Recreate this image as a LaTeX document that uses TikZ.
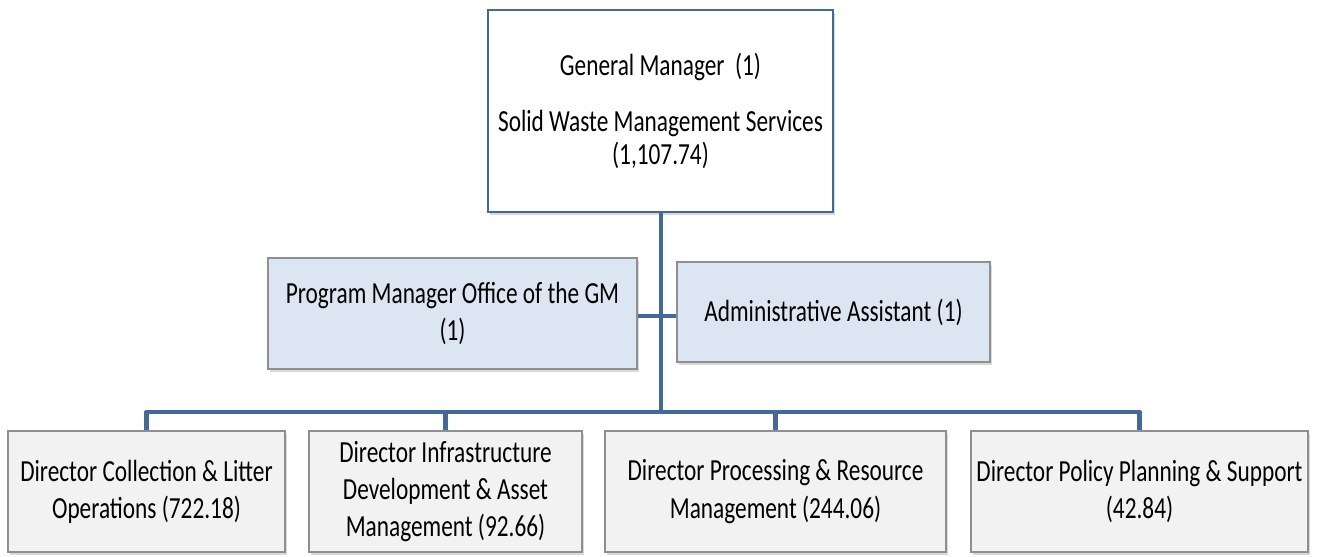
\documentclass[tikz,border=0pt]{standalone}
\usepackage{fontspec}
\setmainfont[FakeStretch=0.76]{Carlito}
\usetikzlibrary{shadows}
\definecolor{linkblue}{HTML}{41699A}
\definecolor{paleblue}{HTML}{DCE6F2}
\definecolor{palegray}{HTML}{F2F2F2}
\definecolor{edgegray}{HTML}{8F8F8F}
\begin{document}
\begin{tikzpicture}[x=0.75pt,y=-0.75pt,
  box/.style={draw=edgegray, line width=0.8pt, align=center, inner sep=0pt,
    font=\fontsize{23}{28}\selectfont,
    drop shadow={opacity=0.3, shadow xshift=1.2pt, shadow yshift=-2pt}},
  headbox/.style={box, draw=linkblue, line width=2.2pt, fill=white},
  sidebox/.style={box, fill=paleblue},
  dirbox/.style={box, fill=palegray, minimum height=90.75pt},
  link/.style={draw=linkblue, line width=3.6pt}]
\useasboundingbox (0,0) rectangle (1318,557);

% head of the department
\node[headbox, minimum width=258.75pt, minimum height=151.5pt] (gm) at (660.5,111)
  {General Manager\ \ (1)\\[14pt] Solid Waste Management Services\\[-3pt] (1,107.74)};

% staff positions beside the trunk
\node[sidebox, minimum width=276.75pt, minimum height=83.25pt] (pm) at (452.5,313.5)
  {Program Manager Office of the GM\\ (1)};
\node[sidebox, minimum width=234.75pt, minimum height=75pt] (aa) at (833.5,312)
  {Administrative Assistant (1)};

% directors
\node[dirbox, minimum width=207.75pt] (d1) at (146.5,491.5)
  {Director Collection \& Litter\\ Operations (722.18)};
\node[dirbox, minimum width=204.75pt] (d2) at (445.5,491.5)
  {Director Infrastructure\\ Development \& Asset\\ Management (92.66)};
\node[dirbox, minimum width=255.75pt] (d3) at (775.5,491.5)
  {Director Processing \& Resource\\ Management (244.06)};
\node[dirbox, minimum width=252.75pt] (d4) at (1139.5,491.5)
  {Director Policy Planning \& Support\\ (42.84)};

% connectors
\coordinate (bus) at (661,412);
\coordinate (mid) at (661,316);
\draw[link] (gm.south -| bus) -- (bus);
\draw[link] (pm.east |- mid) -- (aa.west |- mid);
\draw[link, line join=round] (d1.north) -- (d1.north |- bus) -- (d4.north |- bus) -- (d4.north);
\draw[link] (d2.north) -- (d2.north |- bus);
\draw[link] (d3.north) -- (d3.north |- bus);
\end{tikzpicture}
\end{document}
